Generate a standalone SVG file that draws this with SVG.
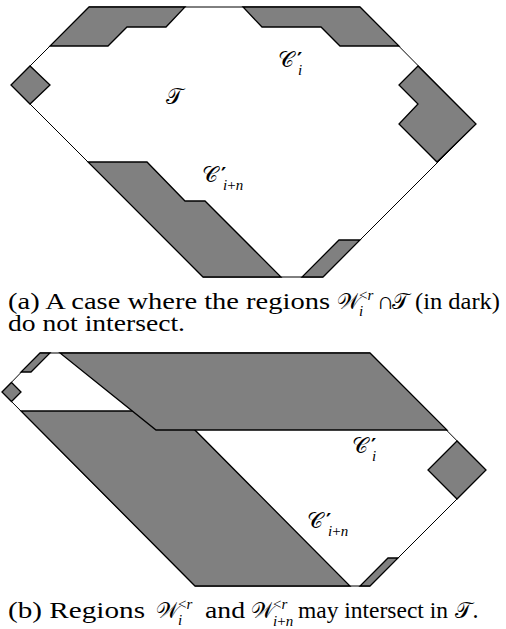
<svg xmlns="http://www.w3.org/2000/svg" width="506" height="629" viewBox="0 0 506 629">
<style>
.outline{fill:#fff;stroke:#000;stroke-width:1}
.dark{fill:#808080;stroke:#000;stroke-width:1.3;stroke-linejoin:miter}
.t{font-family:"Liberation Serif","DejaVu Serif",serif;font-size:24px;fill:#000}
.m{font-family:"DejaVu Serif","Liberation Serif",serif;font-size:22px;fill:#000}
.s{font-family:"Liberation Serif","DejaVu Serif",serif;font-size:15px}
.si{font-family:"Liberation Serif","DejaVu Serif",serif;font-size:15px;font-style:italic}
.p{font-family:"DejaVu Sans","Liberation Sans",sans-serif;font-size:20px;font-weight:bold}
</style>
<rect width="506" height="629" fill="#fff"/>
<g id="figure-a">
  <polygon id="a-T" class="outline" points="89,7 360,7 476,124 323,277 203,277 11,85"/>
  <polygon id="a-top-left" class="dark" points="89,7 185,7 166,27 127,27 108,46 50,46"/>
  <polygon id="a-left-diamond" class="dark" points="11,85 30,66 50,85 30,104"/>
  <polygon id="a-top-right" class="dark" points="243,7 360,7 399,46 340,46 321,27 262,27"/>
  <polygon id="a-right" class="dark" points="418,66 399,85 418,104 399,124 437,162 476,124"/>
  <polygon id="a-lower-left" class="dark" points="88,162 147,162 185,201 205,201 281,277 203,277"/>
  <polygon id="a-bottom-right" class="dark" points="302,277 323,277 360,240 339,240"/>
  <text id="label-a-T" class="m" x="166" y="104">𝒯</text>
  <text id="label-a-Ci" class="m" x="278" y="67">𝒞<tspan class="p" x="297" y="66">′</tspan><tspan class="si" x="298" y="75">i</tspan></text>
  <text id="label-a-Cin" class="m" x="202" y="182">𝒞<tspan class="p" x="221" y="181">′</tspan><tspan class="si" x="223" y="190">i</tspan><tspan class="s">+</tspan><tspan class="si">n</tspan></text>
</g>
<g id="caption-a" class="t">
  <text x="8" y="309" textLength="322" lengthAdjust="spacingAndGlyphs">(a) A case where the regions</text>
  <text class="m" x="337" y="309">𝒲<tspan class="s" x="359" y="300">&lt;</tspan><tspan class="si">r</tspan><tspan class="si" x="359" y="316">i</tspan></text>
  <text x="377" y="309">∩</text>
  <text class="m" x="392" y="309">𝒯</text>
  <text x="415" y="309" textLength="85" lengthAdjust="spacingAndGlyphs">(in dark)</text>
  <text x="8" y="331" textLength="177" lengthAdjust="spacingAndGlyphs">do not intersect.</text>
</g>
<g id="figure-b">
  <polygon id="b-T" class="outline" points="40,353 370,353 486,470 370,586 195,586 2,392"/>
  <polygon id="b-lower-band" class="dark" points="21,411 176,411 350,586 195,586"/>
  <polygon id="b-upper-band" class="dark" points="60,353 370,353 447,430 156,430"/>
  <polygon id="b-top-left-strip" class="dark" points="40,353 50,353 31,372 21,372"/>
  <polygon id="b-left-diamond" class="dark" points="2,392 11.5,382.5 21,392 11.5,401.5"/>
  <polygon id="b-right-square" class="dark" points="457,441 428,470 457,499 486,470"/>
  <polygon id="b-bottom-strip" class="dark" points="360,586 370,586 398,558 388,558"/>
  <text id="label-b-Ci" class="m" x="352" y="453">𝒞<tspan class="p" x="371" y="452">′</tspan><tspan class="si" x="372" y="461">i</tspan></text>
  <text id="label-b-Cin" class="m" x="307" y="528">𝒞<tspan class="p" x="326" y="527">′</tspan><tspan class="si" x="328" y="536">i</tspan><tspan class="s">+</tspan><tspan class="si">n</tspan></text>
</g>
<g id="caption-b" class="t">
  <text x="8" y="618" textLength="137" lengthAdjust="spacingAndGlyphs">(b) Regions</text>
  <text class="m" x="156" y="618">𝒲<tspan class="s" x="178" y="609">&lt;</tspan><tspan class="si">r</tspan><tspan class="si" x="178" y="625">i</tspan></text>
  <text x="205" y="618" textLength="40" lengthAdjust="spacingAndGlyphs">and</text>
  <text class="m" x="251" y="618">𝒲<tspan class="s" x="273" y="609">&lt;</tspan><tspan class="si">r</tspan><tspan class="si" x="273" y="626">i</tspan><tspan class="s">+</tspan><tspan class="si">n</tspan></text>
  <text x="298" y="618" textLength="150" lengthAdjust="spacingAndGlyphs">may intersect in</text>
  <text class="m" x="455" y="618">𝒯.</text>
</g>
</svg>
